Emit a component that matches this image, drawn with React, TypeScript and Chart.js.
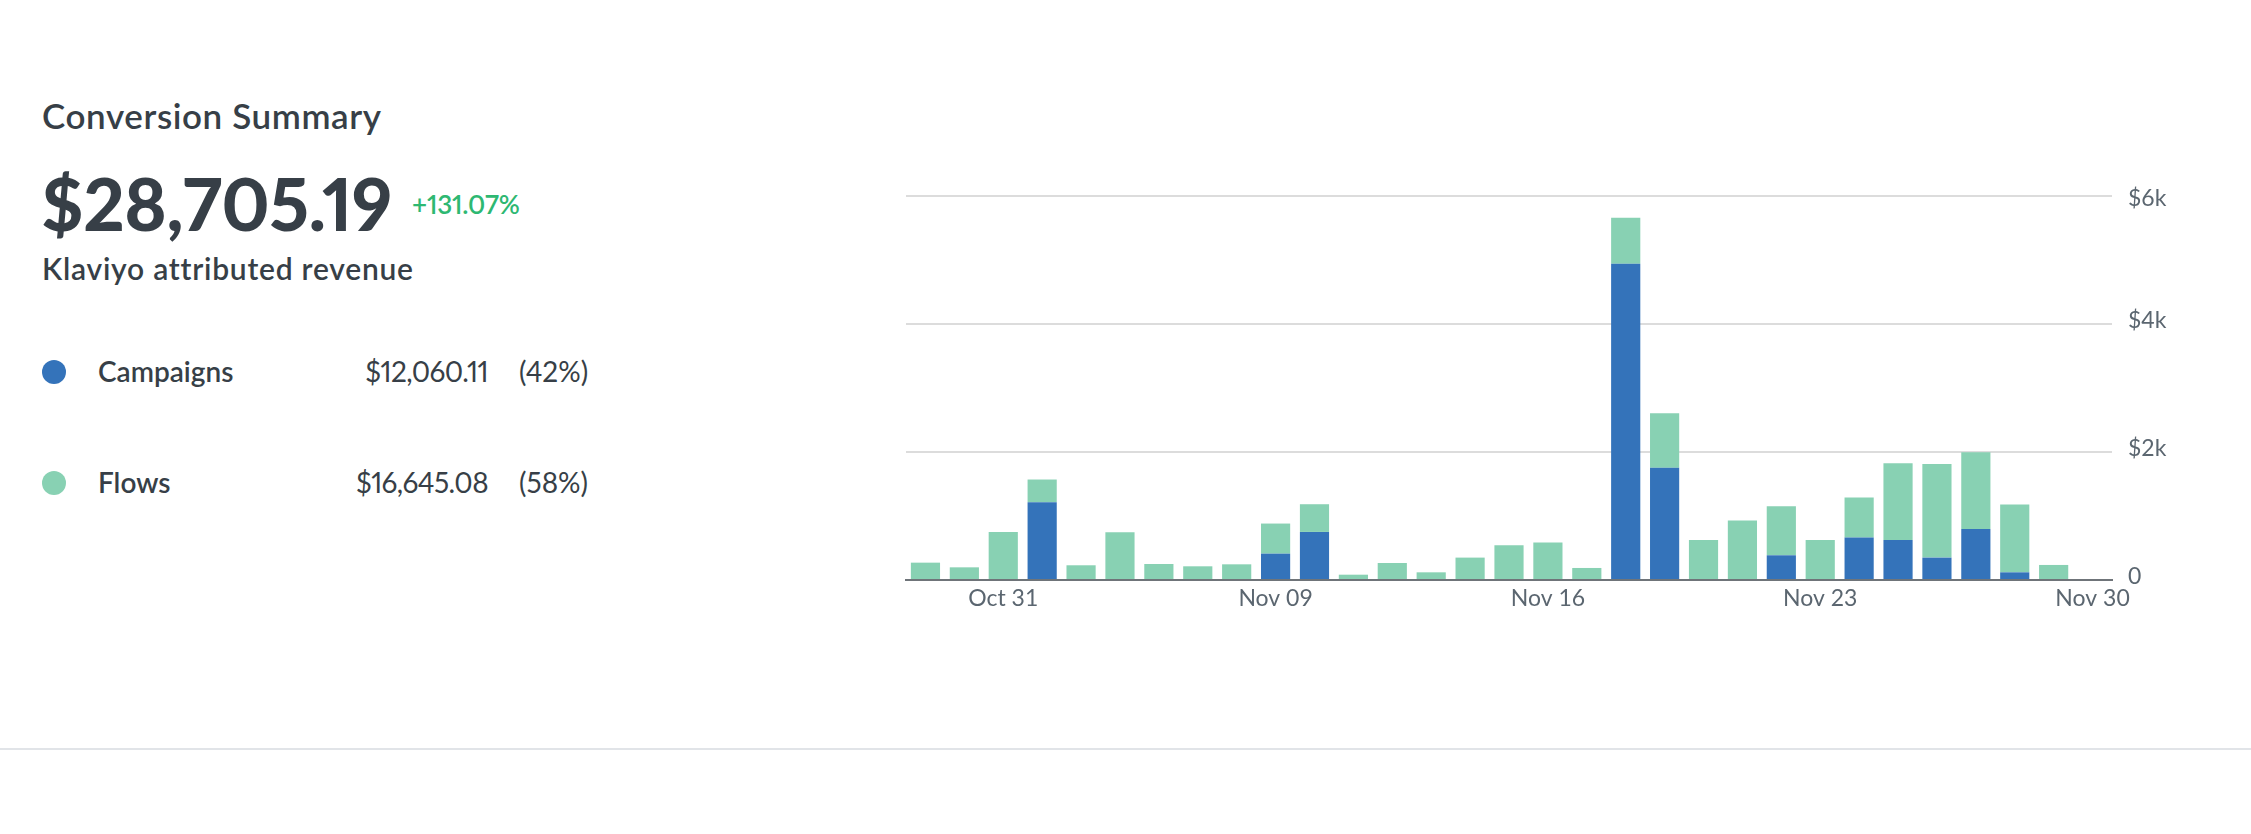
import React, { useEffect, useRef } from "react";
import { Chart, registerables } from "chart.js";

Chart.register(...registerables);

const dates = [
  "Oct 31", "Nov 01", "Nov 02", "Nov 03", "Nov 04", "Nov 05", "Nov 06", "Nov 07",
  "Nov 08", "Nov 09", "Nov 10", "Nov 11", "Nov 12", "Nov 13", "Nov 14", "Nov 15",
  "Nov 16", "Nov 17", "Nov 18", "Nov 19", "Nov 20", "Nov 21", "Nov 22", "Nov 23",
  "Nov 24", "Nov 25", "Nov 26", "Nov 27", "Nov 28", "Nov 29", "Nov 30",
];

const campaigns = [
  0, 0, 0, 1216, 0, 0, 0, 0, 0, 412, 751, 0, 0, 0, 0, 0,
  0, 0, 4941, 1753, 0, 0, 386, 0, 663, 626, 350, 798, 120, 0, 0,
];

const flows = [
  271, 198, 751, 354, 230, 746, 250, 214, 245, 470, 433, 83, 266, 120, 350, 543,
  584, 188, 720, 851, 626, 929, 767, 626, 626, 1200, 1461, 1200, 1059, 235, 0,
];

const xTickLabels = [
  "", "", "Oct 31", "", "", "", "", "", "", "Nov 09", "", "", "", "", "", "",
  "Nov 16", "", "", "", "", "", "", "Nov 23", "", "", "", "", "", "", "Nov 30",
];

const yTickValues = [0, 2000, 4000, 6000];
const yTickLabels = ["0", "$2k", "$4k", "$6k"];

const summary = {
  title: "Conversion Summary",
  total: "$28,705.19",
  change: "+131.07%",
  subtitle: "Klaviyo attributed revenue",
};

const legendRows = [
  { name: "Campaigns", value: "$12,060.11", pct: "(42%)", color: "#3473ba" },
  { name: "Flows", value: "$16,645.08", pct: "(58%)", color: "#88d1b3" },
];

const TEXT = "#373f47";
const FONT = "Lato, 'Noto Sans', sans-serif";

function BarChart() {
  const ref = useRef<HTMLCanvasElement | null>(null);
  useEffect(() => {
    if (!ref.current) return;
    const chart = new Chart(ref.current, {
      type: "bar",
      data: {
        labels: dates,
        datasets: [
          {
            label: "Campaigns",
            data: campaigns,
            backgroundColor: legendRows[0].color,
            borderWidth: 0,
            categoryPercentage: 1,
            barPercentage: 0.75,
          },
          {
            label: "Flows",
            data: flows,
            backgroundColor: legendRows[1].color,
            borderWidth: 0,
            categoryPercentage: 1,
            barPercentage: 0.75,
          },
        ],
      },
      options: {
        animation: false,
        responsive: true,
        maintainAspectRatio: false,
        layout: { padding: { left: 30, top: 30, right: 0, bottom: 0 } },
        plugins: { legend: { display: false }, tooltip: { enabled: false } },
        scales: {
          x: {
            stacked: true,
            offset: true,
            grid: { display: true, drawOnChartArea: false, drawTicks: false },
            border: { display: true, color: "#6f7479", width: 2 },
            ticks: {
              autoSkip: false,
              maxRotation: 0,
              minRotation: 0,
              padding: 5,
              color: "#5b6670",
              font: { family: FONT, size: 23 },
              callback: (_v: any, i: number) => xTickLabels[i],
            },
            afterFit: (s: any) => {
              s.height = 50;
            },
          },
          y: {
            stacked: true,
            position: "right",
            min: 0,
            max: 6000,
            afterBuildTicks: (s: any) => {
              s.ticks = yTickValues.map((v) => ({ value: v }));
            },
            grid: { color: "#dcdcdc", lineWidth: 2, drawTicks: false },
            border: { display: false },
            ticks: {
              padding: 16,
              labelOffset: 3,
              color: "#5b6670",
              font: { family: FONT, size: 23, lineHeight: 0.56 },
              callback: (_v: any, i: number) =>
                i === yTickLabels.length - 1 ? yTickLabels[i] : [yTickLabels[i], ""],
            },
            afterFit: (s: any) => {
              s.width = 139;
            },
          },
        },
      },
    });
    return () => chart.destroy();
  }, []);
  return (
    <div style={{ position: "absolute", left: 876, top: 166, width: 1375, height: 464 }}>
      <canvas ref={ref} />
    </div>
  );
}

export default function App() {
  const abs = (o: React.CSSProperties): React.CSSProperties => ({
    position: "absolute",
    whiteSpace: "nowrap",
    fontFamily: FONT,
    color: TEXT,
    margin: 0,
    fontVariantNumeric: "proportional-nums",
    ...o,
  });
  const rowTops = [357, 468];
  return (
    <div
      style={{
        position: "fixed",
        left: 0,
        top: 0,
        width: 2251,
        height: 834,
        background: "#ffffff",
        overflow: "hidden",
      }}
    >
      <div
        style={abs({
          left: 42,
          top: 98,
          fontSize: 35,
          lineHeight: "35px",
          fontWeight: 600,
          letterSpacing: 0.6,
        })}
      >
        {summary.title}
      </div>
      <div
        style={abs({
          left: 41,
          top: 167,
          fontSize: 72,
          lineHeight: "72px",
          fontWeight: 900,
          letterSpacing: -0.4,
        })}
      >
        {summary.total}
      </div>
      <div
        style={abs({
          left: 412,
          top: 191,
          fontSize: 26,
          lineHeight: "26px",
          fontWeight: 600,
          color: "#2eb872",
          letterSpacing: -0.2,
        })}
      >
        {summary.change}
      </div>
      <div
        style={abs({
          left: 42,
          top: 253,
          fontSize: 30,
          lineHeight: "30px",
          fontWeight: 600,
          letterSpacing: 0.75,
        })}
      >
        {summary.subtitle}
      </div>
      {legendRows.map((r, i) => (
        <React.Fragment key={r.name}>
          <div
            style={{
              position: "absolute",
              left: 42,
              top: rowTops[i] + 15 - 12,
              width: 24,
              height: 24,
              borderRadius: "50%",
              background: r.color,
            }}
          />
          <div style={abs({ left: 98, top: rowTops[i], fontSize: 28, lineHeight: "28px", fontWeight: 600 })}>
            {r.name}
          </div>
          <div
            style={abs({
              right: 2251 - 488,
              top: rowTops[i],
              fontSize: 28,
              lineHeight: "28px",
              fontWeight: 400,
              textAlign: "right",
              letterSpacing: -0.6,
            })}
          >
            {r.value}
          </div>
          <div style={abs({ left: 519, top: rowTops[i], fontSize: 28, lineHeight: "28px", fontWeight: 400 })}>
            {r.pct}
          </div>
        </React.Fragment>
      ))}
      <BarChart />
      <div
        style={{
          position: "absolute",
          left: 0,
          top: 748,
          width: 2251,
          height: 2,
          background: "#e1e4e8",
        }}
      />
    </div>
  );
}
